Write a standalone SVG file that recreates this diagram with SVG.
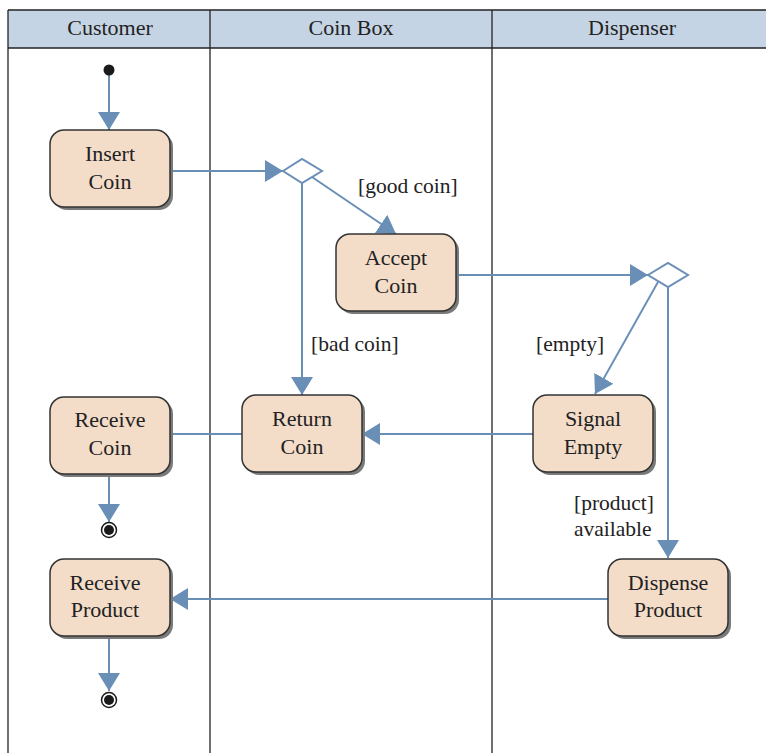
<svg xmlns="http://www.w3.org/2000/svg" width="766" height="753" viewBox="0 0 766 753">
<defs>
<style>
.lane{fill:none;stroke:#222;stroke-width:1.3}
.hdr{font-family:"Liberation Serif",serif;font-size:22px;fill:#222;text-anchor:middle}
.box{fill:#f3ddc9;stroke:#333;stroke-width:1.5}
.sh{fill:#7a7a7a}
.t{font-family:"Liberation Serif",serif;font-size:22px;fill:#222;text-anchor:middle}
.lbl{font-family:"Liberation Serif",serif;font-size:21.5px;fill:#222}
.c{fill:none;stroke:#6a8fb7;stroke-width:2}
.dia{fill:#fff;stroke:#6a8fb7;stroke-width:2}
</style>
<marker id="ah" viewBox="0 0 18 22" refX="18" refY="11" markerWidth="18" markerHeight="22" orient="auto" markerUnits="userSpaceOnUse">
<path d="M0,0 L18,11 L0,22 z" fill="#6a8fb7"/>
</marker>
</defs>
<rect width="766" height="753" fill="#fff"/>
<g id="lanes">
<rect x="8" y="10" width="770" height="38" fill="#c5d4e4"/>
<line class="lane" x1="8" y1="10" x2="766" y2="10"/>
<line class="lane" x1="8" y1="48" x2="766" y2="48"/>
<line class="lane" x1="8" y1="10" x2="8" y2="753"/>
<line class="lane" x1="210" y1="10" x2="210" y2="753"/>
<line class="lane" x1="492" y1="10" x2="492" y2="753"/>
<text class="hdr" x="110" y="35">Customer</text>
<text class="hdr" x="351" y="35">Coin Box</text>
<text class="hdr" x="632" y="35">Dispenser</text>
</g>
<g id="connectors">
<line class="c" x1="109" y1="72" x2="109" y2="130" marker-end="url(#ah)"/>
<line class="c" x1="170" y1="171" x2="283" y2="171" marker-end="url(#ah)"/>
<line class="c" x1="302" y1="183" x2="302" y2="395" marker-end="url(#ah)"/>
<line class="c" x1="312" y1="177" x2="396" y2="234" marker-end="url(#ah)"/>
<line class="c" x1="456" y1="275" x2="648" y2="275" marker-end="url(#ah)"/>
<line class="c" x1="668" y1="287" x2="668" y2="558" marker-end="url(#ah)"/>
<line class="c" x1="658" y1="282" x2="595" y2="394" marker-end="url(#ah)"/>
<line class="c" x1="533" y1="434" x2="362" y2="434" marker-end="url(#ah)"/>
<line class="c" x1="170" y1="434" x2="242" y2="434"/>
<line class="c" x1="109" y1="474" x2="109" y2="522" marker-end="url(#ah)"/>
<line class="c" x1="608" y1="599" x2="170" y2="599" marker-end="url(#ah)"/>
<line class="c" x1="109" y1="637" x2="109" y2="691" marker-end="url(#ah)"/>
<text class="lbl" x="358" y="193">[good coin]</text>
<text class="lbl" x="311" y="351">[bad coin]</text>
<text class="lbl" x="536" y="351">[empty]</text>
<text class="lbl" x="574" y="510">[product]</text>
<text class="lbl" x="574" y="536">available</text>
</g>
<g id="start"><circle cx="109" cy="70" r="5.5" fill="#1a1a1a"/></g>
<g id="decision1"><polygon class="dia" points="283,171 302,159 322,171 302,183"/></g>
<g id="decision2"><polygon class="dia" points="648,275 668,263 688,275 668,287"/></g>
<g id="insertCoin">
<rect class="sh" x="53" y="133" width="120" height="77" rx="14"/>
<rect class="box" x="50" y="130" width="120" height="77" rx="14"/>
<text class="t" x="110" y="161">Insert</text><text class="t" x="110" y="189">Coin</text>
</g>
<g id="acceptCoin">
<rect class="sh" x="339" y="237" width="120" height="77" rx="14"/>
<rect class="box" x="336" y="234" width="120" height="77" rx="14"/>
<text class="t" x="396" y="265">Accept</text><text class="t" x="396" y="293">Coin</text>
</g>
<g id="receiveCoin">
<rect class="sh" x="53" y="400" width="120" height="77" rx="14"/>
<rect class="box" x="50" y="397" width="120" height="77" rx="14"/>
<text class="t" x="110" y="427">Receive</text><text class="t" x="110" y="455">Coin</text>
</g>
<g id="returnCoin">
<rect class="sh" x="245" y="398" width="120" height="77" rx="14"/>
<rect class="box" x="242" y="395" width="120" height="77" rx="14"/>
<text class="t" x="302" y="426">Return</text><text class="t" x="302" y="454">Coin</text>
</g>
<g id="signalEmpty">
<rect class="sh" x="536" y="398" width="120" height="77" rx="14"/>
<rect class="box" x="533" y="395" width="120" height="77" rx="14"/>
<text class="t" x="593" y="426">Signal</text><text class="t" x="593" y="454">Empty</text>
</g>
<g id="end1">
<circle cx="109" cy="530" r="7.5" fill="#fff" stroke="#1a1a1a" stroke-width="1.5"/>
<circle cx="109" cy="530" r="5" fill="#1a1a1a"/>
</g>
<g id="receiveProduct">
<rect class="sh" x="53" y="562" width="120" height="77" rx="14"/>
<rect class="box" x="50" y="559" width="120" height="77" rx="14"/>
<text class="t" x="105" y="590">Receive</text><text class="t" x="105" y="617">Product</text>
</g>
<g id="dispenseProduct">
<rect class="sh" x="611" y="562" width="120" height="77" rx="14"/>
<rect class="box" x="608" y="559" width="120" height="77" rx="14"/>
<text class="t" x="668" y="590">Dispense</text><text class="t" x="668" y="617">Product</text>
</g>
<g id="end2">
<circle cx="109" cy="700" r="7.5" fill="#fff" stroke="#1a1a1a" stroke-width="1.5"/>
<circle cx="109" cy="700" r="5" fill="#1a1a1a"/>
</g>
</svg>
